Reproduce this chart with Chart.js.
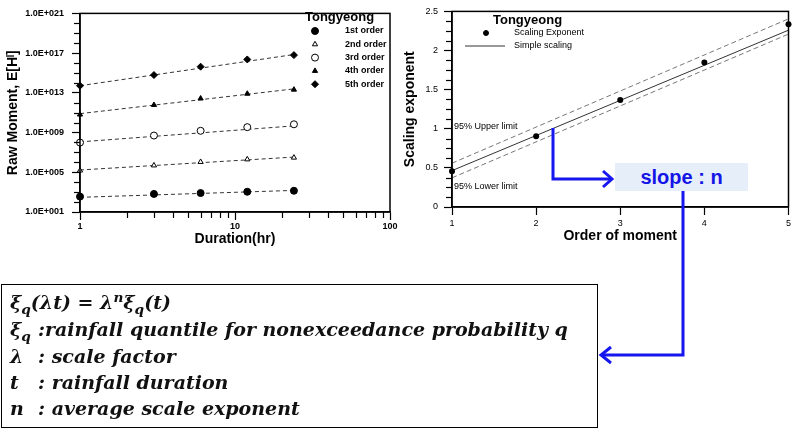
<!DOCTYPE html>
<html>
<head>
<meta charset="utf-8">
<script src="https://cdn.jsdelivr.net/npm/chart.js@4.4.1/dist/chart.umd.min.js"></script>
<style>
  body { margin: 0; background: #fff; }
  #wrap { position: relative; width: 794px; height: 430px; overflow: hidden; font-family: Arial, "Liberation Sans", sans-serif; }
  #left { position: absolute; left: 0; top: 0; }
  #right { position: absolute; left: 400px; top: 0; }
  #arrows { position: absolute; left: 0; top: 0; }
  #slope {
    position: absolute; left: 615px; top: 163px; width: 133px; height: 28px;
    background: #e6eefa; color: #1414e6; font-weight: bold; font-size: 20px;
    line-height: 28px; text-align: center;
  }
  #formula {
    position: absolute; left: 1px; top: 284px; width: 597px; height: 144px;
    box-sizing: border-box; border: 1.5px solid #000;
    font-family: "DejaVu Serif", serif; font-weight: bold; font-style: italic;
    font-size: 19px; color: #111;
  }
  #formula .ln { position: absolute; left: 8px; white-space: nowrap; line-height: 20px; }
  #formula .sym { display: inline-block; width: 28px; }
  #formula sub, #formula sup { font-size: 0.72em; line-height: 0; }
</style>
</head>
<body>
<div id="wrap">
  <canvas id="left" width="400" height="250"></canvas>
  <canvas id="right" width="394" height="250"></canvas>
  <div id="slope">slope : n</div>
  <svg id="arrows" width="794" height="430">
    <g fill="none" stroke="#1616ee" stroke-width="3">
      <polyline points="553,128 553,179 611,179"/>
      <polyline points="603,171 612,179 603,187"/>
      <polyline points="683,191 683,355 602,355"/>
      <polyline points="611,347 601,355 611,363"/>
    </g>
  </svg>
  <div id="formula">
    <div class="ln" style="top:7px">ξ<sub>q</sub>(λt) = λ<sup>n</sup>ξ<sub>q</sub>(t)</div>
    <div class="ln" style="top:34px"><span class="sym">ξ<sub>q</sub></span>:rainfall quantile for nonexceedance probability q</div>
    <div class="ln" style="top:61px"><span class="sym">λ</span>: scale factor</div>
    <div class="ln" style="top:87px"><span class="sym">t</span>: rainfall duration</div>
    <div class="ln" style="top:113px"><span class="sym">n</span>: average scale exponent</div>
  </div>
</div>
<script>
// Raw moments E[H^l] for each duration (hr)
const durations = [1, 3, 6, 12, 24];
const moment1st = [355, 660, 810, 1100, 1380];
const moment2nd = [1.5e5, 4.9e5, 1.1e6, 2.0e6, 3.0e6];
const moment3rd = [9.8e7, 5.0e8, 1.5e9, 3.5e9, 6.8e9];
const moment4th = [6.5e10, 6.0e11, 2.7e12, 8.1e12, 2.1e13];
const moment5th = [5.2e13, 6.2e14, 4.3e15, 2.3e16, 6.3e16];

// dashed regression lines: value at 1 hr and at 24 hr
const fitDurations = [1, 24];
const fit1st = [300, 1500];
const fit2nd = [1.7e5, 3.4e6];
const fit3rd = [1.15e8, 4.7e9];
const fit4th = [8e10, 2.5e13];
const fit5th = [5.2e13, 7.2e16];

// scaling exponent vs order of moment
const orders = [1, 2, 3, 4, 5];
const scalingExponent = [0.457, 0.904, 1.368, 1.846, 2.335];
const lineOrders = [1, 5];
const simpleScaling = [0.465, 2.26];
const upperLimit = [0.56, 2.405];
const lowerLimit = [0.373, 2.21];

// ticks
const durationTicks = [1, 10, 100];
const durationMinor = [2, 3, 4, 5, 6, 7, 8, 9, 20, 30, 40, 50, 60, 70, 80, 90];
const momentTicks = [1e1, 1e5, 1e9, 1e13, 1e17, 1e21];
const momentMinor = [1e2, 1e3, 1e4, 1e6, 1e7, 1e8, 1e10, 1e11, 1e12, 1e14, 1e15, 1e16, 1e18, 1e19, 1e20];
const exponentTicks = [0, 0.5, 1, 1.5, 2, 2.5];
const exponentMinor = [0.125, 0.25, 0.375, 0.625, 0.75, 0.875, 1.125, 1.25, 1.375,
                       1.625, 1.75, 1.875, 2.125, 2.25, 2.375];
const orderTicks = [1, 2, 3, 4, 5];

Chart.defaults.font.family = 'Arial, "Liberation Sans", sans-serif';
Chart.defaults.color = '#000';

function pts(xs, ys) {
    return xs.map((x, i) => ({ x: x, y: ys[i] }));
}

function drawMarker(ctx, style, x, y, r, filled) {
    ctx.save();
    ctx.fillStyle = filled ? '#000' : '#fff';
    ctx.strokeStyle = '#000';
    ctx.lineWidth = 1;
    if (Chart.helpers && Chart.helpers.drawPoint) {
        Chart.helpers.drawPoint(ctx, { pointStyle: style, radius: r, rotation: 0, borderWidth: 1 }, x, y);
    } else {
        ctx.beginPath();
        ctx.arc(x, y, r, 0, Math.PI * 2);
        ctx.fill();
        ctx.stroke();
    }
    ctx.restore();
}

// box around the plot area
const frame = {
    id: 'frame',
    afterDraw(chart) {
        const a = chart.chartArea;
        const ctx = chart.ctx;
        ctx.save();
        ctx.strokeStyle = '#000';
        ctx.lineWidth = 1.5;
        ctx.strokeRect(a.left, a.top, a.right - a.left, a.bottom - a.top);
        ctx.restore();
    }
};

// short unlabelled ticks
const minorTicks = {
    id: 'minorTicks',
    afterDraw(chart, args, opts) {
        const ctx = chart.ctx;
        ctx.save();
        ctx.strokeStyle = '#000';
        ctx.lineWidth = 1.2;
        (opts.list || []).forEach(item => {
            const s = chart.scales[item.axis];
            item.values.forEach(v => {
                const p = Math.round(s.getPixelForValue(v)) + 0.5;
                ctx.beginPath();
                if (s.isHorizontal()) {
                    ctx.moveTo(p, s.top);
                    ctx.lineTo(p, s.top + item.len);
                } else {
                    ctx.moveTo(s.right, p);
                    ctx.lineTo(s.right - item.len, p);
                }
                ctx.stroke();
            });
        });
        ctx.restore();
    }
};

// legend + free text drawn inside the plot
const boxLegend = {
    id: 'boxLegend',
    afterDraw(chart, args, opts) {
        const ctx = chart.ctx;
        ctx.save();
        ctx.fillStyle = '#000';
        ctx.textBaseline = 'middle';
        ctx.font = 'bold 13px Arial, "Liberation Sans", sans-serif';
        ctx.fillText(opts.title, opts.titleX, opts.titleY);
        ctx.font = opts.itemFont;
        opts.items.forEach((it, i) => {
            const y = opts.itemY + i * opts.itemGap;
            if (it.line) {
                ctx.strokeStyle = '#333';
                ctx.lineWidth = 1;
                ctx.beginPath();
                ctx.moveTo(opts.lineX0, y + 0.5);
                ctx.lineTo(opts.lineX1, y + 0.5);
                ctx.stroke();
            } else {
                drawMarker(ctx, it.style, opts.markerX, y, it.r, it.filled);
            }
            ctx.fillStyle = '#000';
            ctx.fillText(it.label, opts.labelX, y);
        });
        ctx.font = '9px Arial, "Liberation Sans", sans-serif';
        (opts.notes || []).forEach(n => ctx.fillText(n.text, n.x, n.y));
        ctx.restore();
    }
};

function pointSet(label, ys, style, r, filled) {
    return {
        type: 'scatter', label: label, data: pts(durations, ys), order: 1, clip: false,
        pointStyle: style, pointRadius: r, pointHoverRadius: r,
        backgroundColor: filled ? '#000' : '#fff', borderColor: '#000', borderWidth: 1
    };
}

function fitLine(ys) {
    return {
        type: 'line', data: pts(fitDurations, ys), order: 2, clip: false,
        borderColor: '#333', borderWidth: 1, borderDash: [4, 3], pointRadius: 0, fill: false
    };
}

new Chart(document.getElementById('left'), {
    type: 'scatter',
    data: {
        datasets: [
            fitLine(fit1st), fitLine(fit2nd), fitLine(fit3rd), fitLine(fit4th), fitLine(fit5th),
            pointSet('1st order', moment1st, 'circle', 3.5, true),
            pointSet('2nd order', moment2nd, 'triangle', 3, false),
            pointSet('3rd order', moment3rd, 'circle', 3.5, false),
            pointSet('4th order', moment4th, 'triangle', 3, true),
            pointSet('5th order', moment5th, 'rectRot', 3.5, true)
        ]
    },
    options: {
        responsive: false,
        animation: false,
        layout: { padding: { top: 6, right: 10, left: 0, bottom: 0 } },
        scales: {
            x: {
                type: 'logarithmic', min: 1, max: 100,
                afterBuildTicks: s => { s.ticks = durationTicks.map(v => ({ value: v, major: true })); },
                afterFit: s => { s.height = 38; },
                ticks: { autoSkip: false, maxRotation: 0, padding: 1, font: { size: 9, weight: 'bold' }, callback: v => String(v) },
                grid: { drawOnChartArea: false, tickLength: 8, tickColor: '#000', tickWidth: 1.2 },
                border: { color: '#000', width: 1.5 },
                title: { display: true, text: 'Duration(hr)', font: { size: 14, weight: 'bold' }, padding: { top: 0, bottom: 2 } }
            },
            y: {
                type: 'logarithmic', min: 1e1, max: 1e21,
                afterBuildTicks: s => { s.ticks = momentTicks.map(v => ({ value: v, major: true })); },
                afterFit: s => { s.width = 80; },
                ticks: {
                    autoSkip: false, padding: 8, font: { size: 9, weight: 'bold' },
                    callback: v => '1.0E+' + String(Math.round(Math.log10(v))).padStart(3, '0')
                },
                grid: { drawOnChartArea: false, tickLength: 8, tickColor: '#000', tickWidth: 1.2 },
                border: { color: '#000', width: 1.5 },
                title: { display: true, text: 'Raw Moment, E[Hˡ]', font: { size: 14, weight: 'bold' }, padding: { top: 5, bottom: 0 } }
            }
        },
        plugins: {
            legend: { display: false },
            tooltip: { enabled: false },
            minorTicks: { list: [
                { axis: 'x', values: durationMinor, len: 6 },
                { axis: 'y', values: momentMinor, len: 6 }
            ] },
            boxLegend: {
                title: 'Tongyeong', titleX: 305, titleY: 17,
                itemFont: 'bold 9px Arial, "Liberation Sans", sans-serif',
                markerX: 315, labelX: 345, itemY: 31, itemGap: 13.3,
                items: [
                    { label: '1st order', style: 'circle', r: 3.5, filled: true },
                    { label: '2nd order', style: 'triangle', r: 3, filled: false },
                    { label: '3rd order', style: 'circle', r: 3.5, filled: false },
                    { label: '4th order', style: 'triangle', r: 3, filled: true },
                    { label: '5th order', style: 'rectRot', r: 3.5, filled: true }
                ]
            }
        }
    },
    plugins: [frame, minorTicks, boxLegend]
});

function limitLine(ys, dash, color) {
    return {
        type: 'line', data: pts(lineOrders, ys), order: 2, clip: false,
        borderColor: color, borderWidth: 1, borderDash: dash, pointRadius: 0, fill: false
    };
}

new Chart(document.getElementById('right'), {
    type: 'scatter',
    data: {
        datasets: [
            limitLine(upperLimit, [5, 3], '#777'),
            limitLine(lowerLimit, [5, 3], '#777'),
            limitLine(simpleScaling, [], '#333'),
            {
                type: 'scatter', label: 'Scaling Exponent', data: pts(orders, scalingExponent), order: 1, clip: false,
                pointRadius: 3, backgroundColor: '#000', borderColor: '#000', borderWidth: 0
            }
        ]
    },
    options: {
        responsive: false,
        animation: false,
        layout: { padding: { top: 6, right: 3, left: 0, bottom: 0 } },
        scales: {
            x: {
                type: 'linear', min: 1, max: 5,
                afterBuildTicks: s => { s.ticks = orderTicks.map(v => ({ value: v })); },
                afterFit: s => { s.height = 43; },
                ticks: { autoSkip: false, maxRotation: 0, padding: 3, font: { size: 9 } },
                grid: { drawOnChartArea: false, tickLength: 8, tickColor: '#000', tickWidth: 1.2 },
                border: { color: '#000', width: 1.5 },
                title: { display: true, text: 'Order of moment', font: { size: 14, weight: 'bold' }, padding: { top: 0, bottom: 5 } }
            },
            y: {
                type: 'linear', min: 0, max: 2.5,
                afterBuildTicks: s => { s.ticks = exponentTicks.map(v => ({ value: v })); },
                afterFit: s => { s.width = 52; },
                ticks: { autoSkip: false, padding: 6, font: { size: 9 }, callback: v => String(v) },
                grid: { drawOnChartArea: false, tickLength: 8, tickColor: '#000', tickWidth: 1.2 },
                border: { color: '#000', width: 1.5 },
                title: { display: true, text: 'Scaling exponent', font: { size: 14, weight: 'bold' }, padding: { top: 2, bottom: 0 } }
            }
        },
        plugins: {
            legend: { display: false },
            tooltip: { enabled: false },
            minorTicks: { list: [{ axis: 'y', values: exponentMinor, len: 6 }] },
            boxLegend: {
                title: 'Tongyeong', titleX: 93, titleY: 20,
                itemFont: '9px Arial, "Liberation Sans", sans-serif',
                markerX: 86, labelX: 114, itemY: 33, itemGap: 12.5,
                lineX0: 65, lineX1: 105,
                items: [
                    { label: 'Scaling Exponent', style: 'circle', r: 2.5, filled: true },
                    { label: 'Simple scaling', line: true }
                ],
                notes: [
                    { text: '95% Upper limit', x: 54, y: 127 },
                    { text: '95% Lower limit', x: 54, y: 187 }
                ]
            }
        }
    },
    plugins: [frame, minorTicks, boxLegend]
});
</script>
</body>
</html>
